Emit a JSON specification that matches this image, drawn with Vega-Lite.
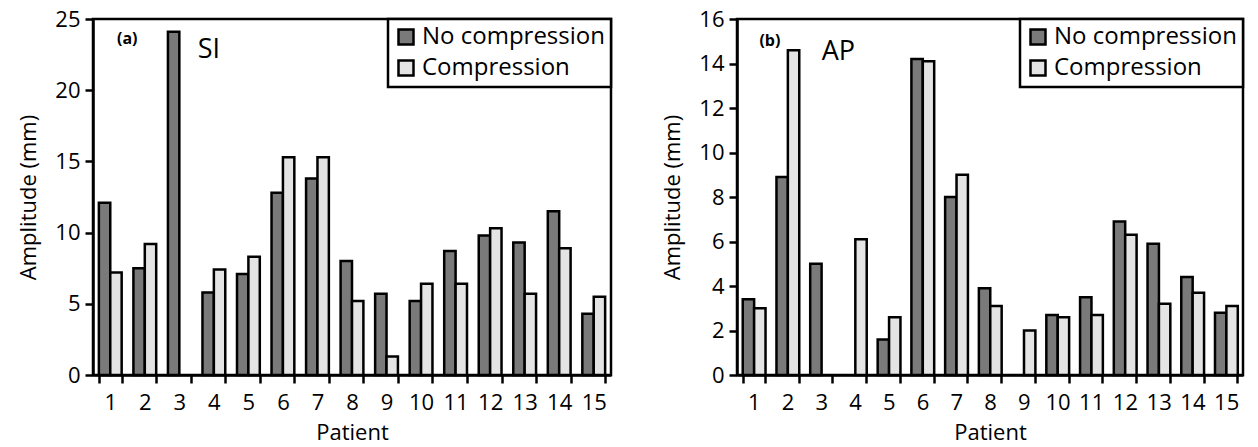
{
  "$schema": "https://vega.github.io/schema/vega-lite/v6.json",
  "padding": {"left": 16, "top": 6, "right": 6, "bottom": 0},
  "background": "white",
  "datasets": {
    "si": [
      {"patient": 1, "series": "No compression", "amp": 12.1}, {"patient": 1, "series": "Compression", "amp": 7.2},
      {"patient": 2, "series": "No compression", "amp": 7.5}, {"patient": 2, "series": "Compression", "amp": 9.2},
      {"patient": 3, "series": "No compression", "amp": 24.1},
      {"patient": 4, "series": "No compression", "amp": 5.8}, {"patient": 4, "series": "Compression", "amp": 7.4},
      {"patient": 5, "series": "No compression", "amp": 7.1}, {"patient": 5, "series": "Compression", "amp": 8.3},
      {"patient": 6, "series": "No compression", "amp": 12.8}, {"patient": 6, "series": "Compression", "amp": 15.3},
      {"patient": 7, "series": "No compression", "amp": 13.8}, {"patient": 7, "series": "Compression", "amp": 15.3},
      {"patient": 8, "series": "No compression", "amp": 8.0}, {"patient": 8, "series": "Compression", "amp": 5.2},
      {"patient": 9, "series": "No compression", "amp": 5.7}, {"patient": 9, "series": "Compression", "amp": 1.3},
      {"patient": 10, "series": "No compression", "amp": 5.2}, {"patient": 10, "series": "Compression", "amp": 6.4},
      {"patient": 11, "series": "No compression", "amp": 8.7}, {"patient": 11, "series": "Compression", "amp": 6.4},
      {"patient": 12, "series": "No compression", "amp": 9.8}, {"patient": 12, "series": "Compression", "amp": 10.3},
      {"patient": 13, "series": "No compression", "amp": 9.3}, {"patient": 13, "series": "Compression", "amp": 5.7},
      {"patient": 14, "series": "No compression", "amp": 11.5}, {"patient": 14, "series": "Compression", "amp": 8.9},
      {"patient": 15, "series": "No compression", "amp": 4.3}, {"patient": 15, "series": "Compression", "amp": 5.5}
    ],
    "ap": [
      {"patient": 1, "series": "No compression", "amp": 3.4}, {"patient": 1, "series": "Compression", "amp": 3.0},
      {"patient": 2, "series": "No compression", "amp": 8.9}, {"patient": 2, "series": "Compression", "amp": 14.6},
      {"patient": 3, "series": "No compression", "amp": 5.0},
      {"patient": 4, "series": "Compression", "amp": 6.1},
      {"patient": 5, "series": "No compression", "amp": 1.6}, {"patient": 5, "series": "Compression", "amp": 2.6},
      {"patient": 6, "series": "No compression", "amp": 14.2}, {"patient": 6, "series": "Compression", "amp": 14.1},
      {"patient": 7, "series": "No compression", "amp": 8.0}, {"patient": 7, "series": "Compression", "amp": 9.0},
      {"patient": 8, "series": "No compression", "amp": 3.9}, {"patient": 8, "series": "Compression", "amp": 3.1},
      {"patient": 9, "series": "Compression", "amp": 2.0},
      {"patient": 10, "series": "No compression", "amp": 2.7}, {"patient": 10, "series": "Compression", "amp": 2.6},
      {"patient": 11, "series": "No compression", "amp": 3.5}, {"patient": 11, "series": "Compression", "amp": 2.7},
      {"patient": 12, "series": "No compression", "amp": 6.9}, {"patient": 12, "series": "Compression", "amp": 6.3},
      {"patient": 13, "series": "No compression", "amp": 5.9}, {"patient": 13, "series": "Compression", "amp": 3.2},
      {"patient": 14, "series": "No compression", "amp": 4.4}, {"patient": 14, "series": "Compression", "amp": 3.7},
      {"patient": 15, "series": "No compression", "amp": 2.8}, {"patient": 15, "series": "Compression", "amp": 3.1}
    ]
  },
  "config": {
    "font": "Open Sans",
    "view": {"stroke": "black", "strokeWidth": 2.5},
    "axis": {
      "domainColor": "black", "domainWidth": 2.5,
      "tickColor": "black", "tickWidth": 2.5, "tickSize": 8,
      "labelColor": "black", "labelFontSize": 22, "labelFont": "Open Sans",
      "titleColor": "black", "titleFontSize": 22, "titleFont": "Open Sans", "titleFontWeight": "normal",
      "grid": false
    },
    "legend": {
      "orient": "top-right", "offset": 0, "title": null,
      "strokeColor": "black", "strokeWidth": 2.5, "fillColor": "white",
      "padding": 6, "rowPadding": 5, "labelLimit": 400,
      "labelFontSize": 24, "labelFont": "Open Sans", "labelColor": "black",
      "symbolType": "square", "symbolSize": 225, "symbolStrokeColor": "black", "symbolStrokeWidth": 2.5, "symbolOpacity": 1
    }
  },
  "hconcat": [
    {
      "width": 518, "height": 356,
      "layer": [
        {
          "data": {"name": "si"},
          "mark": {"type": "bar", "stroke": "black", "strokeWidth": 2.5},
          "encoding": {
            "x": {"field": "patient", "type": "ordinal", "title": "Patient",
                  "scale": {"domain": [1,2,3,4,5,6,7,8,9,10,11,12,13,14,15], "paddingInner": 0.34, "paddingOuter": 0.17},
                  "axis": {"labelAngle": 0, "tickBand": "extent", "labelPadding": 9, "titlePadding": 9}},
            "xOffset": {"field": "series", "type": "nominal", "scale": {"domain": ["No compression", "Compression"], "paddingInner": 0}},
            "y": {"field": "amp", "type": "quantitative", "title": "Amplitude (mm)",
                  "scale": {"domain": [0, 25], "nice": false},
                  "axis": {"values": [0, 5, 10, 15, 20, 25], "labelPadding": 5, "titlePadding": 14}},
            "fill": {"field": "series", "type": "nominal",
                     "scale": {"domain": ["No compression", "Compression"], "range": ["#7a7a7a", "#e4e4e4"]}}
          }
        },
        {
          "data": {"values": [{"label": "(a)"}]},
          "mark": {"type": "text", "fontSize": 16, "fontWeight": "bold", "color": "black", "align": "center", "dx": 17},
          "encoding": {"x": {"datum": 1, "type": "ordinal"}, "y": {"datum": 23.6, "type": "quantitative"}, "text": {"field": "label"}}
        },
        {
          "data": {"values": [{"label": "SI"}]},
          "mark": {"type": "text", "fontSize": 27, "color": "black", "align": "center", "dx": -5},
          "encoding": {"x": {"datum": 4, "type": "ordinal"}, "y": {"datum": 22.8, "type": "quantitative"}, "text": {"field": "label"}}
        }
      ]
    },
    {
      "width": 506, "height": 356,
      "layer": [
        {
          "data": {"name": "ap"},
          "mark": {"type": "bar", "stroke": "black", "strokeWidth": 2.5},
          "encoding": {
            "x": {"field": "patient", "type": "ordinal", "title": "Patient",
                  "scale": {"domain": [1,2,3,4,5,6,7,8,9,10,11,12,13,14,15], "paddingInner": 0.34, "paddingOuter": 0.17},
                  "axis": {"labelAngle": 0, "tickBand": "extent", "labelPadding": 9, "titlePadding": 9}},
            "xOffset": {"field": "series", "type": "nominal", "scale": {"domain": ["No compression", "Compression"], "paddingInner": 0}},
            "y": {"field": "amp", "type": "quantitative", "title": "Amplitude (mm)",
                  "scale": {"domain": [0, 16], "nice": false},
                  "axis": {"values": [0, 2, 4, 6, 8, 10, 12, 14, 16], "labelPadding": 5, "titlePadding": 14}},
            "fill": {"field": "series", "type": "nominal",
                     "scale": {"domain": ["No compression", "Compression"], "range": ["#7a7a7a", "#e4e4e4"]}}
          }
        },
        {
          "data": {"values": [{"label": "(b)"}]},
          "mark": {"type": "text", "fontSize": 16, "fontWeight": "bold", "color": "black", "align": "center", "dx": 16},
          "encoding": {"x": {"datum": 1, "type": "ordinal"}, "y": {"datum": 15.0, "type": "quantitative"}, "text": {"field": "label"}}
        },
        {
          "data": {"values": [{"label": "AP"}]},
          "mark": {"type": "text", "fontSize": 27, "color": "black", "align": "center", "dx": 17},
          "encoding": {"x": {"datum": 3, "type": "ordinal"}, "y": {"datum": 14.5, "type": "quantitative"}, "text": {"field": "label"}}
        }
      ]
    }
  ],
  "resolve": {"scale": {"fill": "independent", "x": "independent", "y": "independent"}, "legend": {"fill": "independent"}},
  "spacing": 46
}
